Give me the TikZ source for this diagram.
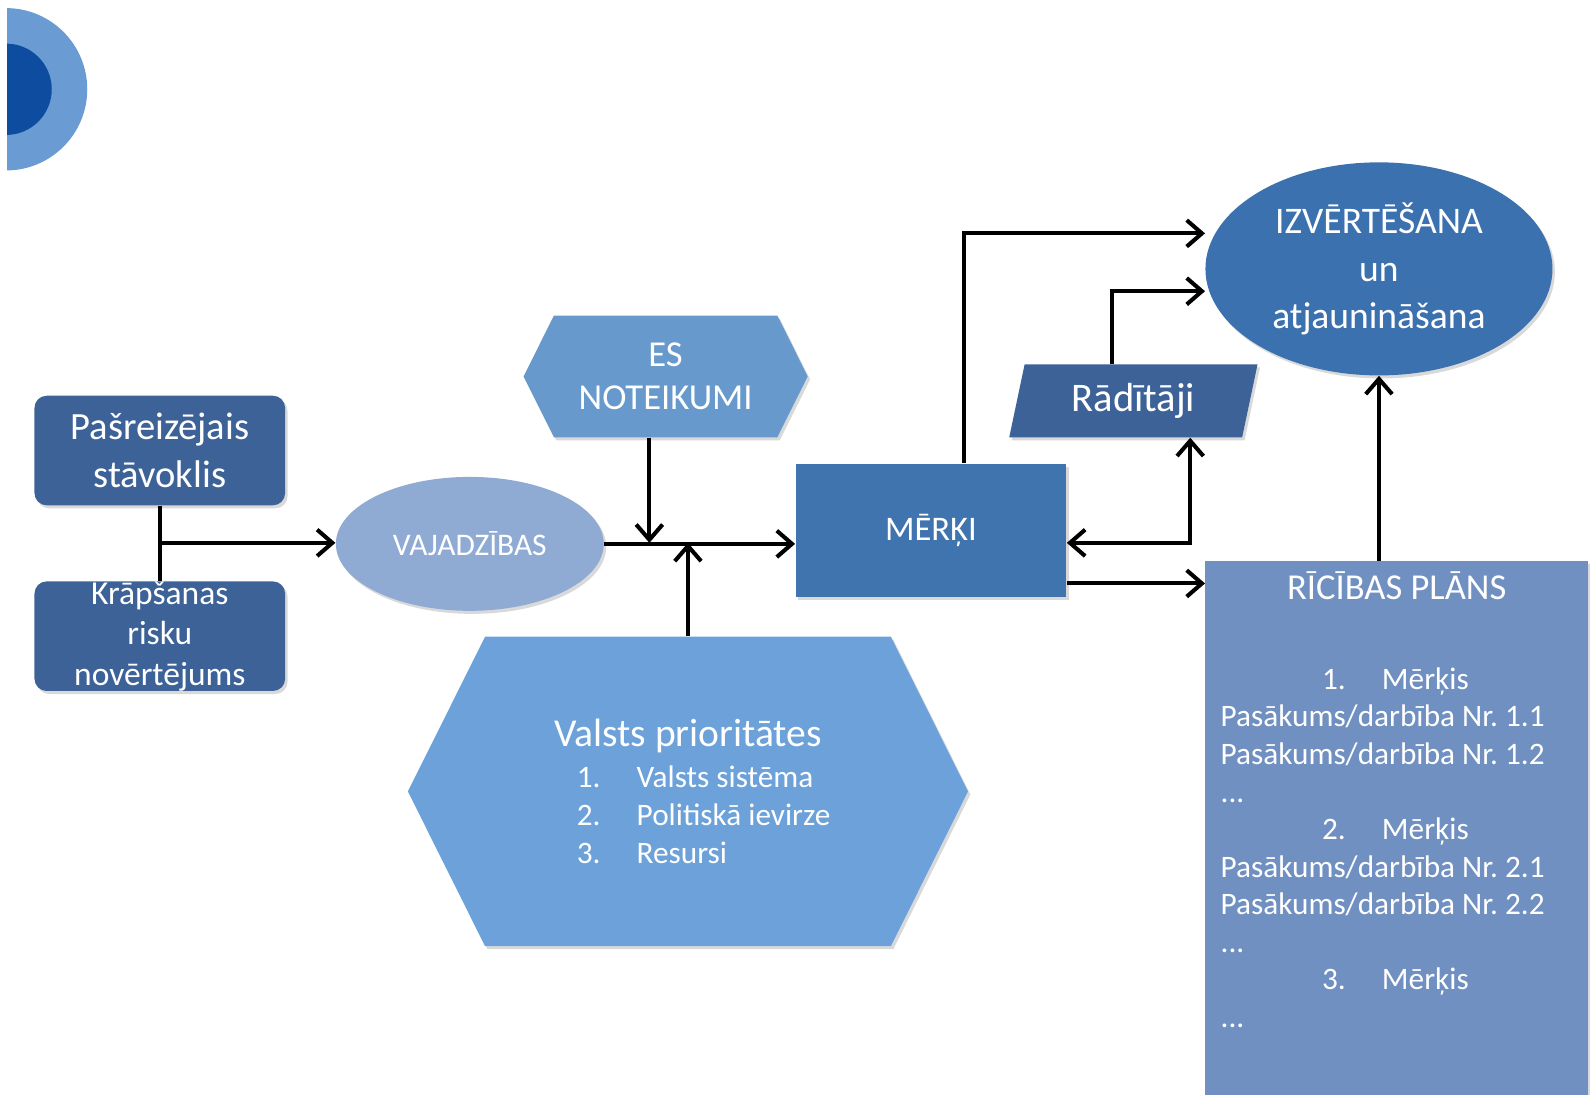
\documentclass[tikz,border=0pt]{standalone}
\usepackage{fontspec}
\setmainfont{Carlito}
\usepackage{tikz}
\usetikzlibrary{shapes.geometric,shapes.symbols,shadows,arrows.meta}
\definecolor{navyfill}{HTML}{3D6298}
\definecolor{mistfill}{HTML}{90ABD3}
\definecolor{skyfill}{HTML}{6799CD}
\definecolor{lightfill}{HTML}{6CA2D9}
\definecolor{midfill}{HTML}{3F74AE}
\definecolor{ovalfill}{HTML}{3B71AF}
\definecolor{planfill}{HTML}{6F90C1}
\definecolor{ringout}{HTML}{6A9BD2}
\definecolor{ringin}{HTML}{0D4C9E}
\tikzset{>={Straight Barb[length=7.5pt,width=13pt]}}
\tikzset{softshadow/.style = {drop shadow={opacity=0.3,shadow xshift=1.2pt,shadow yshift=-1.5pt}}}
\tikzset{darkbox/.style = {shape=rectangle,rounded corners=6pt,fill=navyfill,text=white,minimum width=123.5pt,minimum height=54pt,align=center,inner sep=0pt,softshadow}}
\tikzset{hexbox/.style = {shape=signal,signal to=west and east,signal pointer angle=127,text=white,align=center,inner sep=0pt,softshadow}}
\tikzset{ovalbox/.style = {shape=ellipse,text=white,align=center,inner sep=0pt,softshadow}}
\tikzset{slantbox/.style = {shape=trapezium,trapezium left angle=76,trapezium right angle=104,trapezium stretches=true,fill=navyfill,text=white,inner sep=0pt,softshadow}}
\tikzset{planbox/.style = {shape=rectangle,fill=planfill,text=white,inner sep=0pt,softshadow}}
\tikzset{conn/.style = {draw=black,line width=2pt}}

\begin{document}
\begin{tikzpicture}[x=0.5pt,y=-0.5pt]
                \useasboundingbox (0,0) rectangle (1568,1079);

                \begin{scope}
                    \clip (7,0) rectangle (200,200);
                    \fill[ringout] (6,88) circle[radius=40pt];
                    \fill[ringin] (6,88) circle[radius=22.5pt];
                \end{scope}

                \node[darkbox,font=\fontsize{19pt}{23.5pt}\selectfont] (pasr) at (157.5,444) {Pašreizējais\\stāvoklis};
                \node[darkbox,font=\fontsize{16.5pt}{20pt}\selectfont] (krap) at (157.5,627) {Krāpšanas\\risku\\novērtējums};
                \node[ovalbox,fill=mistfill,minimum width=132pt,minimum height=66pt,font=\fontsize{15.5pt}{18pt}\selectfont] (vaj) at (463,536) {VAJADZĪBAS};
                \node[hexbox,fill=skyfill,minimum width=140pt,minimum height=60pt,font=\fontsize{18pt}{21.5pt}\selectfont] (es) at (656,371) {ES\\NOTEIKUMI};
                \node[hexbox,fill=lightfill,minimum width=276pt,minimum height=152.5pt] (valsts) at (678,780)
                    {\fontsize{19.5pt}{21.5pt}\selectfont Valsts prioritātes\\[5pt]
                     \hspace*{17pt}\parbox[t]{126.5pt}{\fontsize{15.4pt}{18.75pt}\selectfont
                     \makebox[29.5pt][l]{1.}Valsts sistēma\\
                     \makebox[29.5pt][l]{2.}Politiskā ievirze\\
                     \makebox[29.5pt][l]{3.}Resursi}};
                \node[shape=rectangle,fill=midfill,text=white,minimum width=133.5pt,minimum height=65.5pt,softshadow,font=\fontsize{17pt}{20pt}\selectfont] (merki) at (917.5,522.5) {MĒRĶI};
                \node[slantbox,minimum width=123pt,minimum height=36pt,font=\fontsize{20pt}{22pt}\selectfont] (radit) at (1117,395) {Rādītāji};
                \node[ovalbox,fill=ovalfill,minimum width=171pt,minimum height=105pt,font=\fontsize{18.5pt}{23.5pt}\selectfont] (izv) at (1359,265) {IZVĒRTĒŠANA\\un\\atjaunināšana};
                \node[planbox,minimum width=188.5pt,minimum height=263pt] (ricibas) at (1376.5,816)
                    {\parbox[c][263pt][t]{173.5pt}{\vspace*{5pt}
                     \centering{\fontsize{18pt}{21pt}\selectfont RĪCĪBAS PLĀNS\par}
                     \vspace{26pt}
                     \raggedright\fontsize{15.4pt}{18.5pt}\selectfont
                     \hspace*{50pt}\makebox[29.5pt][l]{1.}Mērķis\\
                     Pasākums/darbība Nr.\ 1.1\\
                     Pasākums/darbība Nr.\ 1.2\\
                     ...\\
                     \hspace*{50pt}\makebox[29.5pt][l]{2.}Mērķis\\
                     Pasākums/darbība Nr.\ 2.1\\
                     Pasākums/darbība Nr.\ 2.2\\
                     ...\\
                     \hspace*{50pt}\makebox[29.5pt][l]{3.}Mērķis\\
                     ...\par}};

                \coordinate (jleft) at (157.5,535);
                \coordinate (jes) at (640,535);
                \coordinate (jval) at (678,535);
                \coordinate (jtop) at (950,230);
                \coordinate (jrad) at (1096,287);
                \coordinate (jback) at (1173,535);
                \coordinate (jplan) at (1051,575);

                \draw[conn] (pasr) -- (krap);
                \draw[conn,->] (jleft) -- (vaj.west |- jleft);
                \draw[conn,->] (vaj.east) -- (merki.west |- vaj.east);
                \draw[conn,->] (es.south -| jes) -- (jes);
                \draw[conn,->] (valsts.north -| jval) -- (jval);
                \draw[conn,->] (merki.north -| jtop) |- (izv.west |- jtop);
                \draw[conn,->] (radit.north -| jrad) |- (izv.west |- jrad);
                \draw[conn,<->] (radit.south -| jback) |- (merki.east |- jback);
                \draw[conn,->] (merki.east |- jplan) -- (ricibas.west |- jplan);
                \draw[conn,->] (ricibas.north -| izv.south) -- (izv.south);
            \end{tikzpicture}
\end{document}
